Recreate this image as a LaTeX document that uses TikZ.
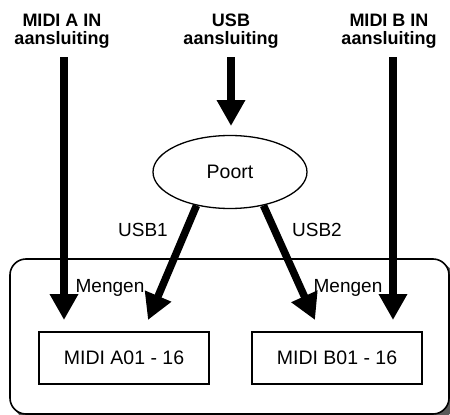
\documentclass[tikz,border=0pt]{standalone}
\usepackage{fontspec}
\setmainfont{Liberation Sans}
\usetikzlibrary{arrows.meta,shapes.geometric}
\begin{document}
\begin{tikzpicture}[x=1pt,y=-1pt,
  toplabel/.style={font=\fontsize{18}{18}\selectfont\bfseries,align=center,anchor=north,inner sep=0pt},
  lbl/.style={font=\fontsize{19}{22}\selectfont,inner sep=1pt},
  bigarrow/.style={line width=7.5pt,-{Triangle[width=27pt,length=26pt]}},
  midibox/.style={draw,line width=1.6pt,minimum width=170pt,minimum height=52pt,font=\fontsize{19.5}{22}\selectfont},
]
\useasboundingbox (0,0) rectangle (450,415);
\clip (0,0) rectangle (450,415);
% outer rounded frame with shadow
\fill[gray!70!black,rounded corners=16pt] (14,263) rectangle (454,419);
\draw[line width=1.6pt,fill=white,rounded corners=16pt] (10,259) rectangle (449,414);
% top labels
\node[toplabel] (la) at (62,14) {MIDI A IN\\aansluiting};
\node[toplabel] (lu) at (231,14) {USB\\aansluiting};
\node[toplabel] (lb) at (389,14) {MIDI B IN\\aansluiting};
% port ellipse
\node[ellipse,draw,line width=1.3pt,minimum width=154pt,minimum height=73pt,font=\fontsize{19.5}{22}\selectfont] (P) at (230,172) {Poort};
% boxes
\node[midibox] (A) at (124,358) {MIDI A01 - 16};
\node[midibox] (B) at (337,358) {MIDI B01 - 16};
% arrow endpoints
\coordinate (sa) at (64,57);
\coordinate (ta) at (64,320);
\coordinate (su) at (231,57);
\coordinate (tu) at (231,126);
\coordinate (sb) at (393,57);
\coordinate (tb) at (393,320);
\coordinate (t1) at (148,320);
\coordinate (t2) at (315,320);
\draw[bigarrow] (sa) -- (ta);
\draw[bigarrow] (su) -- (tu);
\draw[bigarrow] (sb) -- (tb);
\draw[bigarrow] (P.225) -- (t1);
\draw[bigarrow] (P.-45) -- (t2);
% labels
\node[lbl] (u1) at (143,230) {USB1};
\node[lbl] (u2) at (317,230) {USB2};
\node[lbl] (m1) at (110,288) {Mengen};
\node[lbl] (m2) at (348,288) {Mengen};
\end{tikzpicture}
\end{document}
